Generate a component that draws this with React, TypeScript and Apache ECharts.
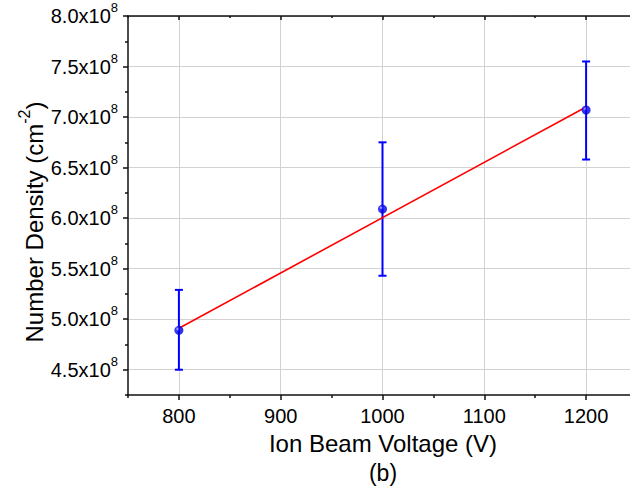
import React, { useEffect, useRef } from 'react';
import * as echarts from 'echarts';

// Data (number density in units of 1e8 cm^-2)
const voltages = [800, 1000, 1200];
const densities = [4.89, 6.09, 7.07];
const errLow = [4.5, 5.43, 6.58];
const errHigh = [5.29, 6.75, 7.55];
const fitX = [800, 1200];
const fitY = [4.91, 7.1];

const xMajor = [800, 900, 1000, 1100, 1200];
const xMinor = [750, 850, 950, 1050, 1150, 1250];
const yMajor = [4.5, 5.0, 5.5, 6.0, 6.5, 7.0, 7.5, 8.0];
const yMinor = [4.25, 4.75, 5.25, 5.75, 6.25, 6.75, 7.25, 7.75];

const FONT = '"Liberation Sans", Arial, sans-serif';
const AXIS_COLOR = '#111';
const GRID_COLOR = '#d2d2d2';

export default function App() {
  const ref = useRef<HTMLDivElement>(null);
  useEffect(() => {
    if (!ref.current) return;
    const chart = echarts.init(ref.current, undefined, { renderer: 'svg' });
    const lineStyle = { color: AXIS_COLOR, width: 1.5 };
    const xBase = { type: 'value', min: 750, max: 1250, gridIndex: 0 };
    const yBase = { type: 'value', min: 4.25, max: 8.0, gridIndex: 0 };
    const option: any = {
      animation: false,
      grid: { left: 128, top: 16, width: 509, height: 379 },
      xAxis: [
        {
          ...xBase,
          position: 'bottom',
          axisLine: { show: true, lineStyle },
          axisTick: { show: true, customValues: xMajor, length: 5, lineStyle },
          axisLabel: {
            customValues: xMajor,
            fontSize: 20,
            fontFamily: FONT,
            color: '#000',
            margin: 11,
            formatter: (v: number) => String(v),
          },
          splitLine: { show: true, lineStyle: { color: GRID_COLOR, width: 1 } },
        },
        {
          ...xBase,
          position: 'bottom',
          axisLine: { show: false },
          axisTick: { show: true, customValues: xMinor, length: 3, lineStyle },
          axisLabel: { show: false },
          splitLine: { show: false },
        },
        {
          ...xBase,
          position: 'top',
          axisLine: { show: true, lineStyle },
          axisTick: { show: true, inside: true, customValues: xMajor, length: 4, lineStyle },
          axisLabel: { show: false },
          splitLine: { show: false },
        },
        {
          ...xBase,
          position: 'top',
          axisLine: { show: false },
          axisTick: { show: true, inside: true, customValues: xMinor, length: 2, lineStyle },
          axisLabel: { show: false },
          splitLine: { show: false },
        },
      ],
      yAxis: [
        {
          ...yBase,
          position: 'left',
          axisLine: { show: true, lineStyle },
          axisTick: { show: true, customValues: yMajor, length: 5, lineStyle },
          axisLabel: {
            customValues: yMajor,
            margin: 10,
            color: '#000',
            formatter: (v: number) => `{a|${v.toFixed(1)}x10}{s|8}`,
            rich: {
              a: { fontSize: 20, fontFamily: FONT, color: '#000', lineHeight: 30 },
              s: { fontSize: 13, fontFamily: FONT, color: '#000', lineHeight: 12, verticalAlign: 'top' },
            },
          },
          splitLine: { show: true, lineStyle: { color: GRID_COLOR, width: 1 } },
        },
        {
          ...yBase,
          position: 'left',
          axisLine: { show: false },
          axisTick: { show: true, customValues: yMinor, length: 3, lineStyle },
          axisLabel: { show: false },
          splitLine: { show: false },
        },
      ],
      graphic: [
        {
          type: 'text',
          x: 383,
          y: 443,
          style: {
            text: 'Ion Beam Voltage (V)',
            font: `24px ${FONT}`,
            fill: '#000',
            align: 'center',
            verticalAlign: 'middle',
          },
        },
        {
          type: 'text',
          x: 383,
          y: 473,
          style: {
            text: '(b)',
            font: `23px ${FONT}`,
            fill: '#000',
            align: 'center',
            verticalAlign: 'middle',
          },
        },
        {
          type: 'text',
          x: 34,
          y: 222,
          rotation: Math.PI / 2,
          style: {
            text: '{a|Number Density (cm}{s|-2}{a|)}',
            fill: '#000',
            align: 'center',
            verticalAlign: 'middle',
            rich: {
              a: { fontSize: 24, fontFamily: FONT, lineHeight: 36 },
              s: { fontSize: 16, fontFamily: FONT, lineHeight: 16, verticalAlign: 'top' },
            },
          },
        },
      ],
      series: [
        {
          type: 'custom',
          xAxisIndex: 0,
          yAxisIndex: 0,
          clip: false,
          data: voltages.map((v, i) => [v, errLow[i], errHigh[i]]),
          encode: { x: 0, y: [1, 2] },
          renderItem: (params: any, api: any) => {
            const x = api.value(0);
            const lo = api.coord([x, api.value(1)]);
            const hi = api.coord([x, api.value(2)]);
            const cap = 4;
            const style = { stroke: '#0000ff', lineWidth: 2 };
            return {
              type: 'group',
              children: [
                { type: 'line', shape: { x1: lo[0], y1: lo[1], x2: hi[0], y2: hi[1] }, style },
                { type: 'line', shape: { x1: lo[0] - cap, y1: lo[1], x2: lo[0] + cap, y2: lo[1] }, style },
                { type: 'line', shape: { x1: hi[0] - cap, y1: hi[1], x2: hi[0] + cap, y2: hi[1] }, style },
              ],
            };
          },
          z: 2,
        },
        {
          type: 'line',
          xAxisIndex: 0,
          yAxisIndex: 0,
          data: fitX.map((x, i) => [x, fitY[i]]),
          showSymbol: false,
          symbol: 'none',
          lineStyle: { color: '#ff0000', width: 1.6 },
          z: 3,
        },
        {
          type: 'scatter',
          xAxisIndex: 0,
          yAxisIndex: 0,
          data: voltages.map((v, i) => [v, densities[i]]),
          symbol: 'circle',
          symbolSize: 9,
          itemStyle: {
            color: new echarts.graphic.RadialGradient(0.35, 0.35, 0.65, [
              { offset: 0, color: '#b0b0ff' },
              { offset: 0.35, color: '#0000ff' },
              { offset: 1, color: '#0000d0' },
            ]),
          },
          z: 4,
        },
      ],
    };
    chart.setOption(option);
    return () => chart.dispose();
  }, []);
  return (
    <div
      ref={ref}
      style={{ position: 'fixed', left: 0, top: 0, width: 645, height: 490, background: '#fff' }}
    />
  );
}
